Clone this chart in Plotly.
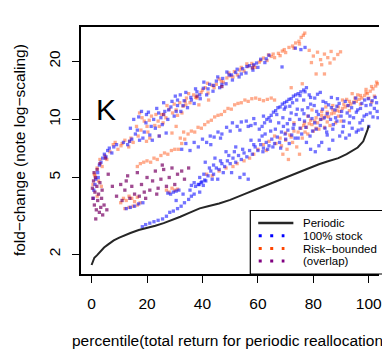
import math
import plotly.graph_objects as go

# ---------------- data (percentile, fold-change) ----------------
periodic_pct = [0, 0.5, 1, 2, 3, 4.5, 6, 8, 10, 12, 14, 17, 20, 23, 26, 29, 32, 35, 39, 42,
                46, 50, 53, 56, 59, 62, 65, 68, 71, 75, 78, 82, 85, 89, 92, 94, 96, 98, 99, 99.5, 100]
periodic_fold = [1.76, 1.85, 1.92, 1.98, 2.05, 2.17, 2.25, 2.36, 2.44, 2.52, 2.58, 2.67, 2.73, 2.81,
                 2.90, 3.00, 3.13, 3.27, 3.46, 3.55, 3.67, 3.83, 3.97, 4.15, 4.32, 4.50, 4.68, 4.85,
                 5.07, 5.36, 5.57, 5.86, 6.05, 6.30, 6.60, 6.85, 7.15, 7.70, 8.30, 8.80, 9.30]

stock_upper = [(0.8,4.3),(1.5,4.9),(2.2,5.3),(2.8,5.8),(3.4,6.0),(4.0,6.3),(4.6,6.6),(5.2,6.4),(5.8,6.9),
    (6.4,7.1),(7.3,6.7),(8.0,7.2),(9.0,7.4),(11.5,7.6),(13.0,7.4),(13.7,7.7),(14.5,7.9),(15.8,8.4),
    (17.0,10.3),(17.3,7.8),(18.5,8.0),(19.6,9.6),(19.8,10.6),(21.0,8.3),(21.9,7.8),(22.4,10.0),(23.0,9.0),
    (24.2,10.8),(24.4,8.2),(25.5,9.4),(26.4,11.0),(26.9,8.5),(27.5,10.0),(28.6,11.6),(29.8,10.4),
    (30.2,13.2),(31.0,12.6),(31.0,11.8),(32.2,11.0),(33.4,12.5),(34.6,11.5),(35.8,13.0),(37.0,12.1),
    (38.0,13.9),(39.2,12.8),(40.3,14.5),(41.5,13.4),(42.6,15.2),(43.8,14.0),(45.0,15.8),(46.2,14.6),
    (47.3,16.3),(48.5,15.3),(49.6,17.0),(50.8,16.0),(52.0,17.5),(53.2,16.6),(54.5,18.3),(55.7,17.4),
    (57.0,19.0),(58.2,18.0),(59.5,19.6),(61.0,20.5),(62.5,19.7),(64.0,21.5),(68.7,18.7),(73.5,23.4),
    (75.5,23.0),(77.0,23.6),
    (14.0,9.0),(15.2,10.0),(16.5,8.8),(18.0,11.0),(19.0,8.6),(20.5,10.9),(21.5,9.2),(23.5,11.4),
    (25.0,10.2),(26.0,12.2),(27.8,11.2),(29.0,12.4),(30.5,11.0),(32.0,13.4),(33.0,11.8),(34.0,13.8),
    (36.0,12.6),(37.5,14.4),(39.0,13.4),(40.5,15.6),(42.0,14.4),(44.0,15.0),(45.5,16.6),(47.0,15.2),
    (48.8,17.6),(50.5,17.0),(52.5,18.2),(54.0,17.2),(56.0,18.8),(58.5,19.2),(60.0,18.6),(63.0,20.6)]
stock_middle = [(32.5,7.0),(34.0,7.5),(35.5,6.9),(37.0,7.6),(38.5,7.2),(40.0,7.9),(41.5,7.6),(42.8,8.2),
    (44.2,8.1),(45.6,8.6),(47.0,8.4),(48.7,9.1),(50.8,9.6),(52.5,9.2),(54.0,9.7),(55.8,9.8),(57.5,9.3),
    (59.0,9.5),(60.5,8.9),(61.5,9.2),(62.4,9.6),(63.2,10.0),(64.0,10.2),(64.8,10.5),(65.6,10.9),
    (66.4,11.1),(67.2,11.5),(68.0,11.6),(68.8,12.0),(69.6,12.2),(70.4,12.4),(71.2,12.7),(72.0,12.8),
    (72.8,13.2),(73.6,13.4),(74.5,13.6),(75.5,13.9),(69.5,11.3),(71.5,11.7),(76.5,14.2),
    (43.0,7.4),(46.5,8.0),(50.0,8.7),(53.5,8.8),(56.5,9.2),(58.5,10.1),(62.0,10.4),(64.5,9.8),
    (66.8,10.6),(70.0,11.6),(72.5,12.2),(74.0,12.6),(77.5,14.6),(79.0,13.0),(81.5,13.5)]
stock_lower = [(38.5,4.6),(39.5,4.7),(40.3,4.55),(41.2,4.8),(42.0,5.1),(43.0,5.4),(44.0,5.2),(45.0,5.6),
    (46.0,5.5),(47.0,5.9),(48.0,5.7),(49.0,6.1),(50.0,5.9),(51.0,6.3),(52.0,6.0),(53.0,6.5),(54.0,6.2),
    (55.0,6.7),(56.0,6.4),(57.0,6.9),(58.0,6.6),(59.0,7.2),(60.0,6.9),(61.0,7.4),(62.0,7.1),(63.0,7.6),
    (64.0,7.3),(65.0,7.9),(66.0,7.5),(67.0,8.1),(53.5,5.0),(55.0,5.2),(56.5,4.9),(45.5,4.9),(50.5,5.3),
    (41.0,6.0),(44.5,6.3),(48.5,6.8),(52.0,7.2),(57.5,7.8),(61.5,8.2),
    (67.8,7.6),(68.5,8.6),(69.2,9.2),(70.0,7.9),(70.8,8.8),(71.5,10.0),(72.2,8.3),(73.0,9.4),(73.8,10.6),
    (74.5,8.0),(75.2,9.0),(76.0,11.2),(76.8,9.8),(77.5,7.6),(78.2,10.4),(79.0,12.0),(79.7,8.7),(80.5,9.6),
    (81.2,11.0),(82.0,7.3),(82.7,10.0),(83.5,12.4),(84.2,9.0),(85.0,10.7),(85.7,7.0),(86.5,11.5),
    (87.2,9.4),(88.0,10.2),(88.7,12.8),(89.5,8.2),(90.2,11.0),(91.0,9.8),(91.7,8.0),(92.5,11.8),
    (93.2,10.4),(94.0,9.0),(94.7,12.2),(95.5,10.9),(96.2,8.8),(97.0,11.4),(97.7,9.9),(98.5,12.6),
    (99.2,10.6),(100.0,9.2),(100.7,11.9),(101.5,10.3),(102.3,13.0),(103.0,11.0),
    (76.5,12.6),(78.5,13.4),(80.5,12.9),(82.5,13.8),(84.5,12.2),(86.5,13.0),(88.5,11.7),(75.2,13.3),
    (77.0,13.9),(79.0,7.0),(80.7,6.8),(83.0,7.6),(85.0,8.3),(87.0,7.8),(90.5,8.6),(93.0,8.3),(95.5,8.6),
    (97.5,8.9),
    (60.5,7.8),(61.8,6.8),(62.6,8.4),(63.5,7.0),(64.6,8.7),(65.4,7.2),(66.3,8.9),(67.5,9.6),(68.2,7.1),
    (69.0,10.2),(69.8,8.4),(70.6,9.5),(71.3,7.5),(72.0,10.8),(72.7,9.0),(73.4,8.0),(74.2,11.3),(75.0,10.0),
    (75.8,8.4),(76.6,10.7),(77.3,9.1),(78.0,11.5),(78.8,8.2),(79.5,10.1),(80.3,11.8),(81.0,8.9),
    (81.8,10.6),(82.5,9.3),(83.3,11.3),(84.0,10.2),(84.8,8.6),(85.5,11.9),(86.2,10.0),(87.0,8.9),
    (87.8,11.2),(88.5,9.8),(89.3,12.1),(90.0,10.4),(90.8,9.2),(91.5,12.4),(92.2,10.8),(93.0,9.6),
    (93.8,11.5),(94.5,10.2),(95.3,12.9),(96.0,11.2),(96.8,9.6),(97.5,12.1),(98.3,10.4),(99.0,11.8),
    (99.8,12.8),(100.5,10.8),(101.2,12.5),(102.0,11.4),(102.8,12.2),(103.3,10.2),
    (39.0,5.0),(40.5,5.2),(42.5,5.6),(44.0,5.8),(46.5,6.1),(49.5,6.5),(51.5,6.8),(54.5,7.0),(58.5,7.4),
    (47.5,5.3),(43.5,4.9)]
stock_left = [(12.5,3.45),(14.0,3.5),(15.5,3.55),(17.0,3.65),(18.5,3.7),(18.3,2.78),(19.5,2.85),
    (21.0,2.9),(22.5,2.95),(24.0,3.0),(25.6,3.05),(27.0,3.15),(28.2,3.3),(29.5,3.35),(31.0,3.45),
    (32.3,3.55),(33.5,3.7),(35.0,3.85),(36.0,4.0),(37.0,4.1),(35.5,4.3),(33.0,4.1),(30.5,3.8),(37.5,4.5),
    (39.0,4.2),(27.5,4.15),(28.5,4.1),(29.5,4.2),(30.5,4.25),(31.5,4.3),(38.8,4.6),(39.8,4.75),
    (40.8,4.85),(36.0,4.55),(37.0,4.7),(1.2,4.6),(2.4,5.0),(0.6,3.9)]

riskb_upper = [(1.0,5.2),(2.0,5.6),(3.0,6.2),(3.8,5.7),(4.8,6.5),(5.5,6.2),(6.6,6.8),(7.8,7.4),(9.5,7.0),
    (10.6,7.3),(12.0,7.8),(13.4,7.2),(15.0,7.6),(16.2,9.2),(17.8,8.8),(19.0,9.8),(20.3,8.6),(21.6,10.4),
    (22.8,9.3),(24.0,9.8),(25.2,10.6),(26.8,10.2),(28.0,11.3),(29.2,10.8),(30.5,11.2),(31.8,12.2),
    (33.0,11.7),(34.2,12.9),(35.5,12.2),(36.8,13.4),(38.0,12.9),(39.5,13.8),(41.0,14.6),(42.0,13.7),
    (43.5,15.0),(45.0,15.2),(46.0,16.2),(47.5,15.6),(48.8,16.4),(50.0,16.8),(51.5,17.7),(52.6,17.0),
    (54.0,18.6),(55.0,17.8),(56.4,18.8),(57.8,19.5),(59.0,18.6),(60.5,19.8),(62.0,20.8),(63.3,20.2),
    (64.8,21.2),(66.0,20.9),(67.4,22.0),(68.8,22.6),(70.0,22.2),(71.2,23.6),(72.5,24.0),(73.6,24.9),
    (74.8,25.4),(75.6,26.6),(76.4,27.3),(76.9,28.0),(17.3,10.8),(20.8,9.9),(24.4,9.2),(30.5,9.2),
    (32.6,10.8),(34.0,11.9),(38.7,11.9),(42.2,12.6),(13.7,7.7),(19.8,7.7),(24.4,8.2),(29.0,8.5),
    (8.5,7.6),(11.0,7.5),(14.2,8.0),(16.8,8.2),(18.2,10.2),(20.0,9.2),(21.0,8.0),(23.2,10.6),(25.8,9.6),
    (27.2,11.8),(29.8,12.0),(31.0,10.5),(33.8,12.4),(35.0,13.6),(37.5,13.0),(40.0,14.2),(41.8,15.4),
    (44.2,14.6),(46.8,15.8),(49.5,17.4),(51.0,16.6),(53.5,18.0),(56.0,19.4),(58.5,19.0),(61.0,20.2),
    (63.8,21.6),(65.5,21.8),(68.0,21.4),(69.5,23.0),(73.0,23.4),(75.0,24.6)]
riskb_scatter_top = [(78.5,22.8),(80.0,21.3),(81.5,22.3),(82.6,20.4),(84.0,21.8),(85.2,20.9),(86.4,22.5),
    (87.5,20.6),(88.8,21.7),(79.3,19.7),(83.0,19.2),(86.0,19.6),(81.0,17.2),(84.0,17.2),(76.0,15.3),
    (72.0,14.6),(89.8,22.4)]
riskb_second = [(16.5,5.7),(17.6,5.9),(18.8,6.0),(20.0,6.1),(21.3,6.0),(22.5,6.3),(23.7,6.2),(25.0,6.5),
    (26.3,6.7),(27.5,6.6),(28.8,6.9),(30.0,7.0),(31.3,7.0),(32.0,8.0),(32.5,7.5),(33.2,8.6),(33.6,7.9),
    (34.8,8.4),(36.0,8.7),(37.2,8.6),(38.4,9.1),(39.6,9.0),(40.8,9.4),(42.0,9.7),(43.2,9.9),(44.4,10.3),
    (45.6,10.5),(46.8,10.6),(48.0,11.0),(49.2,11.4),(50.4,11.3),(51.6,11.9),(52.8,12.1),(54.0,12.2),
    (55.3,12.6),(56.5,12.4),(57.8,12.8),(59.2,12.9),(60.6,12.7),(62.0,12.5),(63.4,12.7),(64.8,12.9),
    (66.0,12.6)]
riskb_lower = [(41.5,5.2),(43.5,5.1),(46.0,5.4),(48.5,5.6),(51.0,5.7),(52.5,5.9),(55.0,6.1),(57.0,6.3),
    (58.5,6.6),(60.0,7.0),(62.0,7.4),(64.0,7.7),(66.0,8.2),(68.0,8.0),(70.0,8.5),(71.5,8.3),(73.0,8.7),
    (74.5,8.6),(75.5,9.0),(76.5,9.3),(77.5,9.1),(78.5,9.5),(79.5,9.4),(80.5,9.8),(81.5,9.6),(82.5,10.0),
    (83.5,10.1),(84.5,10.4),(85.5,10.3),(86.5,10.7),(87.5,10.8),(88.5,11.1),(89.5,11.0),(90.5,11.4),
    (91.5,11.6),(92.5,11.8),(93.5,12.0),(94.5,12.3),(95.5,12.4),(96.5,12.7),(97.5,12.9),(98.5,13.3),
    (99.5,13.6),(100.5,14.0),(101.5,14.4),(102.5,14.9),(103.2,15.3),(68.5,7.3),(70.5,7.0),(72.5,7.6),
    (74.0,7.2),(76.0,8.0),(78.0,8.4),(80.0,8.7),(82.0,8.9),(84.0,9.1),(86.0,9.3),(88.0,9.6),(90.0,9.8),
    (73.0,9.6),(78.0,10.4),(83.0,11.0),(87.0,11.8),(92.0,12.7),(96.0,13.4),(99.0,14.3),(101.0,12.3),
    (102.0,13.2),(69.0,6.6),(71.0,6.2),(75.0,6.6),
    (76.8,9.6),(79.0,9.9),(81.0,10.2),(83.0,10.5),(85.0,10.9),(87.0,11.2),(89.0,11.6),(91.0,12.0),
    (93.0,12.4),(95.0,12.9),(97.0,13.3),(99.0,13.8),(101.0,14.8),(102.8,15.6),(77.0,8.6),(81.0,9.0),
    (85.0,9.7),(89.0,10.4),(93.0,11.1),(97.0,12.0),(100.0,12.9),(79.5,11.2),(84.5,11.6),(90.5,12.6),
    (94.0,13.6),(70.0,7.8),(72.0,8.1),(66.5,7.5),(63.0,6.9)]
riskb_left = [(10.5,3.7),(11.5,3.9),(12.5,3.8),(13.5,4.0),(14.5,3.9),(15.5,3.75),(16.5,3.95),(27.0,4.3),
    (28.0,4.2),(29.0,4.4),(30.0,4.3),(31.0,4.35),(12.0,3.45),(13.5,3.5),(15.0,3.55),(16.5,3.6),(17.5,3.7),
    (0.5,4.6),(1.2,5.1),(2.0,4.0),(2.5,4.8),(3.5,4.5)]

overlap_pts = [(0.3,4.4),(0.5,3.9),(0.7,4.8),(1.0,3.6),(1.2,4.2),(1.4,5.0),(1.7,3.4),(1.9,4.5),(2.2,3.8),
    (2.5,4.1),(2.8,3.3),(3.0,4.7),(3.3,3.5),(3.6,3.9),(4.0,3.2),(0.9,5.3),(2.0,5.5),(1.5,3.05),(4.5,3.6),
    (5.5,3.4),(3.8,4.3),
    (9.0,4.0),(10.5,4.6),(11.0,3.8),(12.0,4.3),(13.0,5.1),(13.8,3.9),(14.5,4.5),(15.5,4.1),(16.5,5.3),
    (17.2,4.0),(18.0,4.6),(19.0,4.2),(20.0,5.0),(21.0,4.3),(22.0,4.8),(23.0,5.4),(24.0,4.4),(25.0,4.9),
    (26.0,5.5),(27.0,4.5),(28.0,5.0),(29.0,5.6),(30.0,4.6),(31.0,5.2),(32.5,5.4),(12.5,4.8),(7.5,4.5),
    (6.0,5.2),(19.5,3.9),(23.5,4.1),(33.5,4.9),(35.0,5.6),(25.5,5.8),
    (47.0,14.8),(38.0,13.2),(26.0,10.6),(5.0,6.3),(3.0,5.9),(58.0,18.5)]

legend_labels = ["Periodic", "100% stock", "Risk\u2212bounded", "(overlap)"]

# ---------------- figure ----------------
FONT = "Liberation Sans, Arial, Helvetica, sans-serif"
BLUE = "rgba(0,0,255,0.55)"
SALMON = "rgba(255,69,0,0.45)"
PURPLE = "rgba(120,0,100,0.7)"

def xy(pts):
    return [p[0] for p in pts], [p[1] for p in pts]

fig = go.Figure()
for pts, col in [(riskb_upper + riskb_scatter_top + riskb_second + riskb_lower + riskb_left, SALMON),
                 (stock_upper + stock_middle + stock_lower + stock_left, BLUE),
                 (overlap_pts, PURPLE)]:
    xs, ys = xy(pts)
    fig.add_trace(go.Scatter(x=xs, y=ys, mode="markers",
                             marker=dict(symbol="square", size=3.3, color=col, line=dict(width=0)),
                             showlegend=False, hoverinfo="skip"))
fig.add_trace(go.Scatter(x=periodic_pct, y=periodic_fold, mode="lines",
                         line=dict(color="#262626", width=2), showlegend=False))

# pixel helpers for plot-area (paper) placement of the decorations
L, R, T, B = 81, 382, 27, 274
def PX(px): return (px - L) / (R - L)
def PY(py): return (B - py) / (B - T)

shapes = [dict(type="rect", xref="paper", yref="paper", x0=PX(252), x1=1.05, y0=0, y1=PY(210.5),
               line=dict(color="black", width=1.2), fillcolor="white", layer="above")]
rows = [223, 235.7, 248.5, 261]
shapes.append(dict(type="line", xref="paper", yref="paper", x0=PX(260), x1=PX(295.5),
                   y0=PY(rows[0]), y1=PY(rows[0]), line=dict(color="#262626", width=2.5), layer="above"))
for r, c in zip(rows[1:], ["#0000ff", "#ff4500", "#800080"]):
    shapes.append(dict(type="line", xref="paper", yref="paper", x0=PX(260.5), x1=PX(286.5),
                       y0=PY(r), y1=PY(r), line=dict(color=c, width=3, dash="3px,8.5px"), layer="above"))

annotations = []
for r, t in zip(rows, legend_labels):
    annotations.append(dict(text=t, xref="paper", yref="paper", x=PX(303), y=PY(r), xanchor="left",
                            yanchor="middle", showarrow=False, font=dict(family=FONT, size=11.5, color="black")))
annotations.append(dict(text="K", xref="paper", yref="paper", x=PX(106.5), y=PY(110), xanchor="center",
                        yanchor="middle", showarrow=False, font=dict(family=FONT, size=30, color="black")))
annotations.append(dict(text="percentile(total return for periodic reallocation)", xref="paper", yref="paper",
                        x=PX(232), y=PY(340), xanchor="center", yanchor="middle", showarrow=False,
                        font=dict(family=FONT, size=15.5, color="black")))
annotations.append(dict(text="fold\u2212change (note log\u2212scaling)", xref="paper", yref="paper",
                        x=PX(19), y=PY(150.5), xanchor="center", yanchor="middle", showarrow=False,
                        textangle=-90, font=dict(family=FONT, size=15.5, color="black")))

fig.update_layout(
    width=382, height=352, margin=dict(l=L, r=0, t=T, b=352 - B, pad=0),
    paper_bgcolor="white", plot_bgcolor="white", showlegend=False,
    font=dict(family=FONT, size=15.5, color="black"),
    shapes=shapes, annotations=annotations,
    xaxis=dict(range=[(L - 91.7) / 2.8, (R - 91.7) / 2.8], tickvals=[0, 20, 40, 60, 80, 100],
               ticks="outside", ticklen=7, tickwidth=1, tickcolor="black", showline=True,
               linecolor="black", linewidth=1.5, mirror=True, showgrid=False, zeroline=False,
               ticklabelstandoff=8, ticklabeloverflow="allow", tickfont=dict(size=15.5)),
    yaxis=dict(type="log", range=[math.log10(1.581), math.log10(30.12)], tickvals=[2, 5, 10, 20],
               ticktext=["2", "5", "10", "20"], tickangle=-90, ticks="outside", ticklen=7, tickwidth=1,
               tickcolor="black", showline=True, linecolor="black", linewidth=1.5, mirror=False,
               showgrid=False, zeroline=False, ticklabelstandoff=6, tickfont=dict(size=15.5)),
)
fig.write_html("out.html")
